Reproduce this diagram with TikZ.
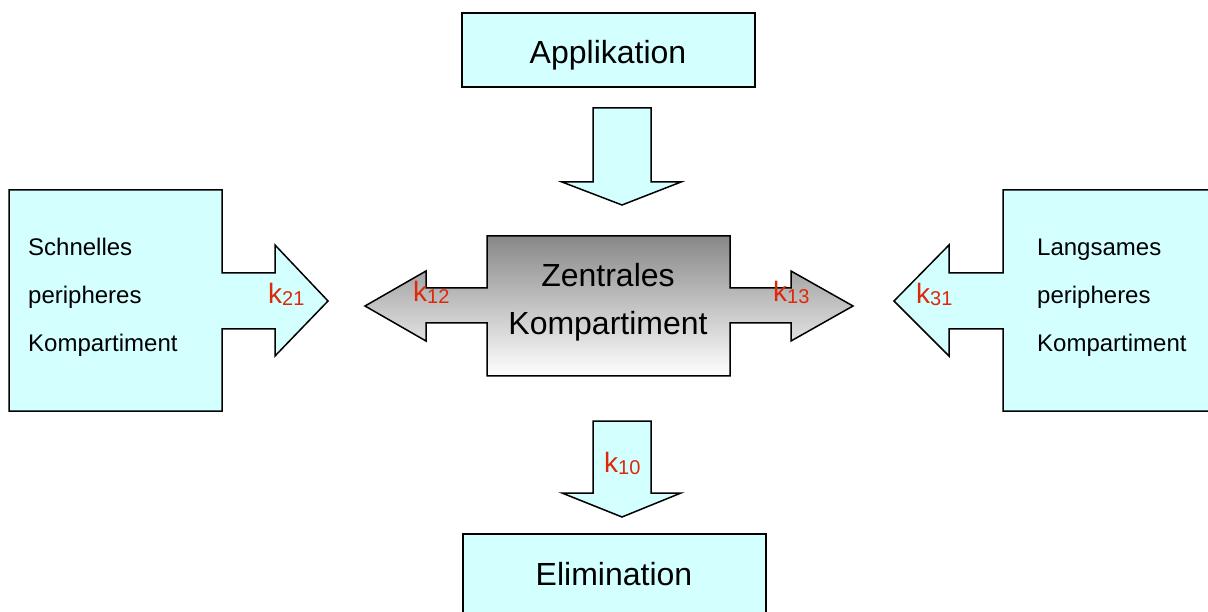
\documentclass[tikz,border=0pt]{standalone}
\usepackage{fontspec}
\setmainfont{Liberation Sans}
\definecolor{lightcyan}{RGB}{212,255,255}
\definecolor{kred}{RGB}{221,40,10}
\definecolor{centralgray}{RGB}{136,136,136}
\newcommand{\krate}[1]{k\raisebox{-2pt}{\fontsize{20}{22}\selectfont #1}}
\begin{document}
\begin{tikzpicture}[x=1pt,y=-1pt,
    cyanshape/.style={draw=black,line width=1.5pt,fill=lightcyan,line join=miter},
    bigtext/.style={anchor=base,inner sep=0pt,font=\fontsize{32}{38}\selectfont},
    smalltext/.style={anchor=base west,inner sep=0pt,font=\fontsize{24}{28}\selectfont},
    ratelabel/.style={anchor=base west,inner sep=0pt,text=kred,font=\fontsize{28}{32}\selectfont}]
    \useasboundingbox (0,0) rectangle (1208,612);
    \clip (0,0) rectangle (1208,612);
    % Applikation
    \draw[cyanshape] (462,13) rectangle (755,87);
    \node[bigtext] (appl) at (608,64) {Applikation};
    \draw[cyanshape] (593,108) -- (651,108) -- (651,182) -- (681,182) -- (622,205) -- (562,182) -- (593,182) -- cycle;
    % zentrales Kompartiment
    \draw[line width=1.5pt,top color=centralgray,bottom color=white,line join=miter]
        (487,236) -- (730,236) -- (730,288) -- (791,288) -- (791,271) -- (853,306) -- (791,341) -- (791,323)
        -- (730,323) -- (730,376) -- (487,376) -- (487,323) -- (426,323) -- (426,341) -- (365,306)
        -- (426,271) -- (426,288) -- (487,288) -- cycle;
    \node[bigtext] (zentr1) at (608,287) {Zentrales};
    \node[bigtext] (zentr2) at (608,335) {Kompartiment};
    \node[ratelabel] (k12) at (413,302) {\krate{12}};
    \node[ratelabel] (k13) at (773,302) {\krate{13}};
    % schnelles peripheres Kompartiment
    \draw[cyanshape] (9,190) -- (222,190) -- (222,273) -- (275,273) -- (275,245) -- (328,301) -- (275,356)
        -- (275,329) -- (222,329) -- (222,411) -- (9,411) -- cycle;
    \node[smalltext] (schnell1) at (28,256) {Schnelles};
    \node[smalltext] (schnell2) at (28,304) {peripheres};
    \node[smalltext] (schnell3) at (28,352) {Kompartiment};
    \node[ratelabel] (k21) at (268,304) {\krate{21}};
    % langsames peripheres Kompartiment
    \draw[cyanshape] (1220,190) -- (1003,190) -- (1003,273) -- (949,273) -- (949,245) -- (894,301) -- (949,356)
        -- (949,329) -- (1003,329) -- (1003,411) -- (1220,411) -- cycle;
    \node[smalltext] (langsam1) at (1037,256) {Langsames};
    \node[smalltext] (langsam2) at (1037,304) {peripheres};
    \node[smalltext] (langsam3) at (1037,352) {Kompartiment};
    \node[ratelabel] (k31) at (916,304) {\krate{31}};
    % Elimination
    \draw[cyanshape] (593,421) -- (651,421) -- (651,493) -- (681,493) -- (622,517) -- (562,493) -- (593,493) -- cycle;
    \node[ratelabel] (k10) at (604,472) {\krate{10}};
    \draw[cyanshape] (463,534) rectangle (766,640);
    \node[bigtext] (elim) at (614,585) {Elimination};
\end{tikzpicture}
\end{document}
